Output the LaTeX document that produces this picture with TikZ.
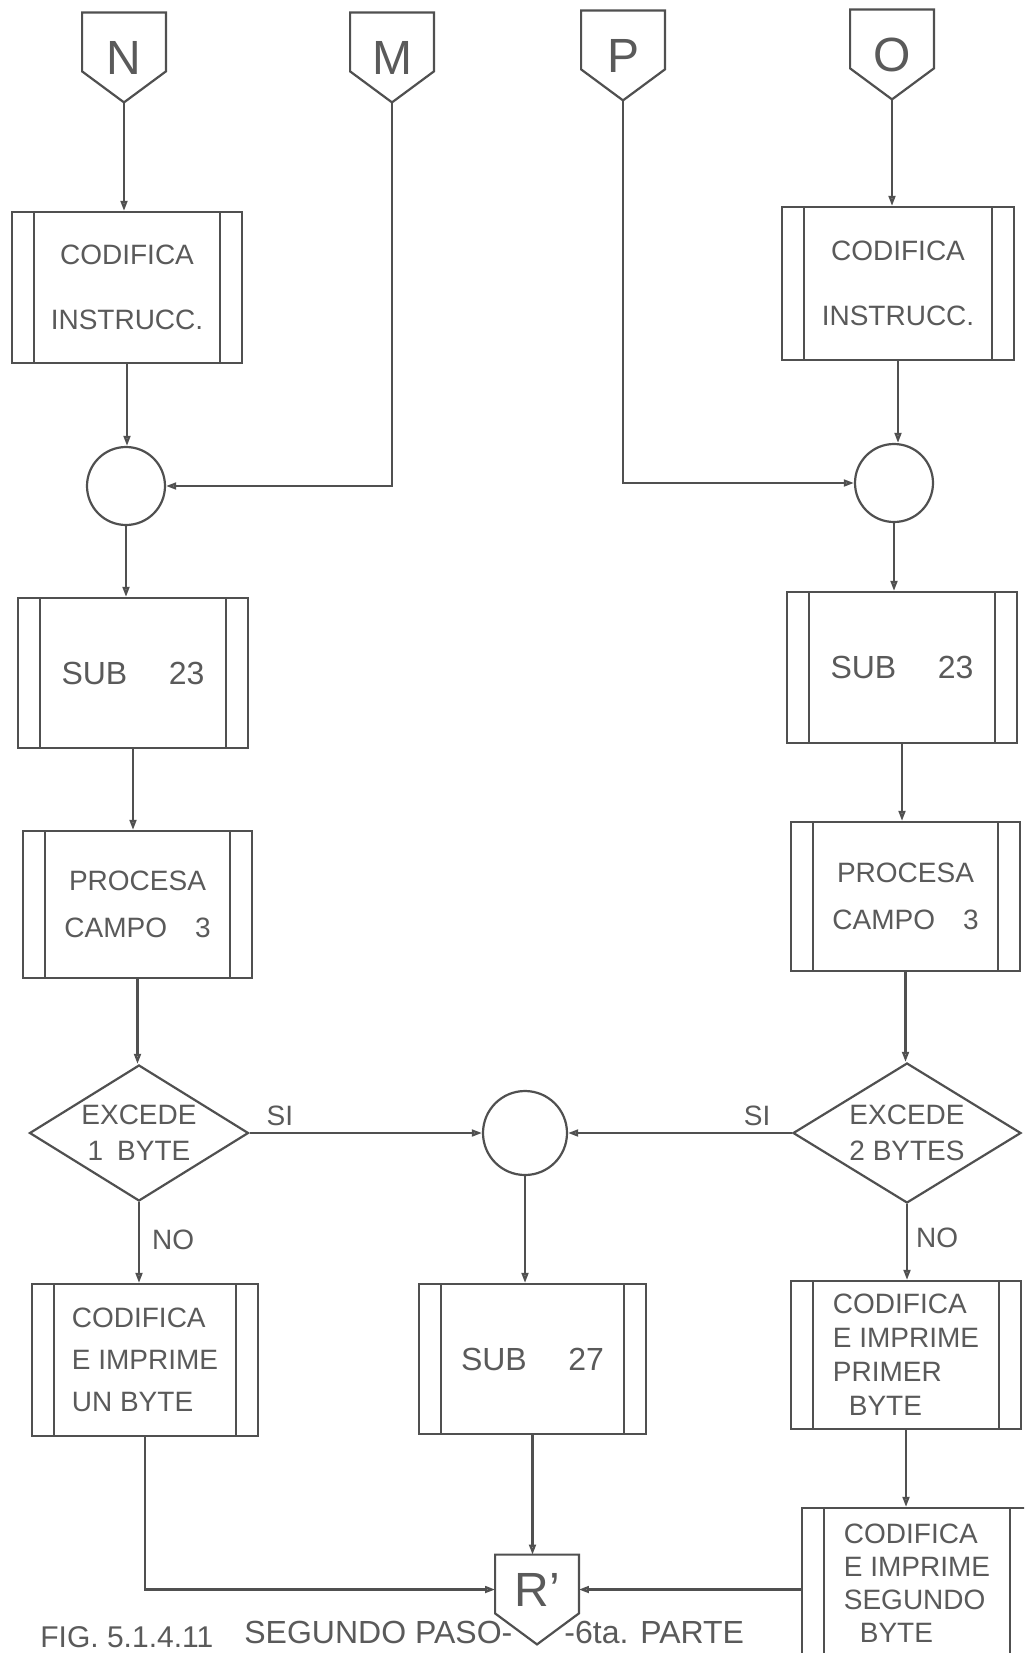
\documentclass[tikz,border=0pt]{standalone}
\usepackage{fontspec}
\setmainfont{Liberation Sans}
\usetikzlibrary{arrows.meta,shapes.geometric,calc}
\definecolor{ink}{HTML}{505050}
\definecolor{txt}{HTML}{5A5A5A}
\newcommand\fsz[2]{\fontsize{#1}{#2}\selectfont}
\newcommand\connline[1]{\draw[ln] (#1.north west) -- (#1.north east) -- ($(#1.south east)+(0,-31)$) -- (#1.south) -- ($(#1.south west)+(0,-31)$) -- cycle;}
\begin{document}
\begin{tikzpicture}[x=0.5pt,y=-0.5pt,
 ln/.style={draw=ink,line width=1.1pt,line join=miter},
 arr/.style={ln,-{Triangle[open,length=5pt,width=3.4pt]}},
 conn/.style={inner sep=0pt,minimum width=41.5pt,minimum height=44.5pt,text=txt,font=\fsz{24}{24}},
 proc/.style={ln,rectangle,inner sep=0pt,text=txt,align=center,font=\fsz{14}{17},
   path picture={\draw[ink,line width=1.1pt]
     ([xshift=11pt]path picture bounding box.north west) -- ([xshift=11pt]path picture bounding box.south west)
     ([xshift=-11pt]path picture bounding box.north east) -- ([xshift=-11pt]path picture bounding box.south east);}},
 junc/.style={ln,circle,minimum size=39pt,inner sep=0pt},
 dec/.style={ln,diamond,aspect=1.6,inner sep=0pt,text=txt,align=center,font=\fsz{14}{18}},
 lbl/.style={text=txt,font=\fsz{14}{14},inner sep=0pt},
]
\useasboundingbox (0,0) rectangle (1024,1653);
\clip (0,0) rectangle (1024,1653);
\fill[white] (0,0) rectangle (1024,1653);

% off-page connectors
\node[conn] (N) at (124,57.5) {N};
\node[conn] (M) at (392,57.5) {M};
\node[conn] (P) at (623,55.5) {P};
\node[conn] (O) at (892,54.5) {O};
\node[conn] (Rp) at (537,1599.5) {\raisebox{5pt}[\height][\depth]{R’}};
\connline{N}\connline{M}\connline{P}\connline{O}\connline{Rp}

% left column
\node[proc,minimum width=115pt,minimum height=75.5pt,font=\fsz{14}{32.5}] (b1) at (127,287.5) {CODIFICA\\INSTRUCC.};
\node[junc] (c1) at (126,486) {};
\node[proc,minimum width=115pt,minimum height=75pt,font=\fsz{16}{16}] (b3) at (133,673) {SUB\hspace{1.3em}23};
\node[proc,minimum width=114.5pt,minimum height=73.5pt,font=\fsz{14}{23.5}] (b5) at (137.5,904.5) {PROCESA\\CAMPO\hspace{1em}3};
\node[dec,minimum width=109.5pt,minimum height=68pt] (d1) at (139,1133) {EXCEDE\\1\hspace{0.5em}BYTE};
\node[proc,minimum width=113pt,minimum height=76pt,align=left,font=\fsz{14}{21}] (b7) at (145,1360) {CODIFICA\\E IMPRIME\\UN BYTE};

% middle
\node[junc,minimum size=42pt] (c3) at (525,1133) {};
\node[proc,minimum width=113.5pt,minimum height=75pt,font=\fsz{16}{16}] (b8) at (532.5,1359) {SUB\hspace{1.3em}27};

% right column
\node[proc,minimum width=116pt,minimum height=76.5pt,font=\fsz{14}{32.5}] (b2) at (898,283.5) {CODIFICA\\INSTRUCC.};
\node[junc] (c2) at (894,483) {};
\node[proc,minimum width=115pt,minimum height=75.5pt,font=\fsz{16}{16}] (b4) at (902,667.5) {SUB\hspace{1.3em}23};
\node[proc,minimum width=114.5pt,minimum height=74.5pt,font=\fsz{14}{23.5}] (b6) at (905.5,896.5) {PROCESA\\CAMPO\hspace{1em}3};
\node[dec,minimum width=114pt,minimum height=70pt] (d2) at (907,1133) {EXCEDE\\2 BYTES};
\node[proc,minimum width=115pt,minimum height=74pt,align=left,font=\fsz{14}{17}] (b9) at (906,1355) {CODIFICA\\E IMPRIME\\PRIMER\\\hspace*{8pt}BYTE};
\node[proc,minimum width=115pt,minimum height=75pt,align=left,font=\fsz{14}{16.5}] (b10) at (917,1583) {CODIFICA\\E IMPRIME\\SEGUNDO\\\hspace*{8pt}BYTE};

% connectors left
\draw[arr] (N.south) -- (N.south |- b1.north);
\draw[arr] (b1.south) -- (b1.south |- c1.north);
\draw[arr] (M.south) |- (c1.east);
\draw[arr] (c1.south) -- (c1.south |- b3.north);
\draw[arr] (b3.south) -- (b3.south |- b5.north);
\draw[arr] (b5.south) -- (b5.south |- d1.north);
\draw[arr] (d1.east) -- node[lbl,pos=0.13,above=3pt]{SI} (c3.west);
\draw[arr] (d1.south) -- node[lbl,pos=0.47,right=6pt]{NO} (d1.south |- b7.north);
% middle
\draw[arr] (c3.south) -- (c3.south |- b8.north);
\draw[arr] (b8.south) -- (b8.south |- Rp.north);
\coordinate (Rin) at ($(Rp.center)+(0,-10)$);
\draw[arr] (b7.south) |- (Rin -| Rp.west);
% right
\draw[arr] (P.south) |- (c2.west);
\draw[arr] (O.south) -- (O.south |- b2.north);
\draw[arr] (b2.south) -- (b2.south |- c2.north);
\draw[arr] (c2.south) -- (c2.south |- b4.north);
\draw[arr] (b4.south) -- (b4.south |- b6.north);
\draw[arr] (b6.south) -- (b6.south |- d2.north);
\draw[arr] (d2.west) -- node[lbl,pos=0.155,above=3pt]{SI} (c3.east);
\draw[arr] (d2.south) -- node[lbl,pos=0.45,right=4pt]{NO} (d2.south |- b9.north);
\draw[arr] (b9.south) -- (b9.south |- b10.north);
\draw[arr] (b10.west |- Rin) -- (Rin -| Rp.east);

% caption
\node[lbl,font=\fsz{15}{15},anchor=base west] (fig) at (40,1647) {FIG. 5.1.4.11};
\node[lbl,font=\fsz{16}{16},anchor=base west] (cap1) at (244,1643) {SEGUNDO PASO-};
\node[lbl,font=\fsz{16}{16},anchor=base west] (cap2) at (564,1643) {-6ta. PARTE};
\end{tikzpicture}
\end{document}
